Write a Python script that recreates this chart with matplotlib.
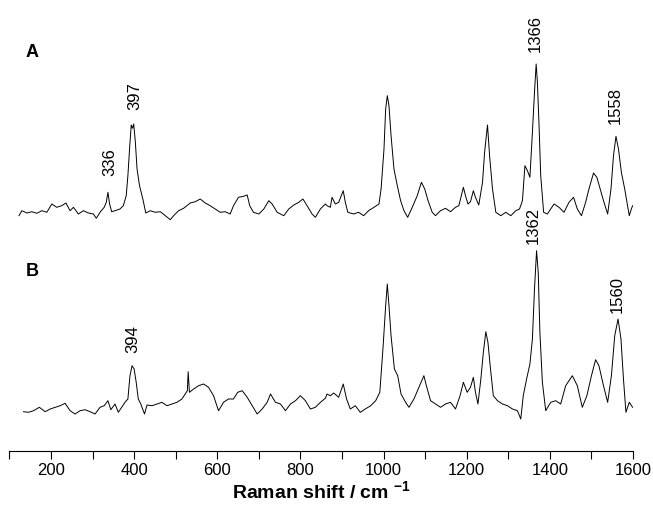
import matplotlib
matplotlib.use("Agg")
import matplotlib.pyplot as plt
import numpy as np

plt.rcParams['font.family'] = ['Liberation Sans', 'DejaVu Sans']
plt.rcParams['mathtext.fontset'] = 'custom'
plt.rcParams['mathtext.rm'] = 'Liberation Sans'
plt.rcParams['mathtext.bf'] = 'Liberation Sans:bold'

# Spectrum A (wavenumber / cm-1, intensity a.u.)
wn_a = [123, 130, 142, 154, 166, 178, 190, 202, 214, 226, 236, 246, 254, 266, 278, 290,
        302, 309, 318, 328, 333, 337, 341, 346, 354, 366, 374, 381, 385, 389, 393, 396,
        399, 403, 407, 413, 421, 428, 439, 451, 463, 475, 487, 495, 507, 519, 535, 547,
        559, 571, 583, 595, 607, 619, 631, 639, 651, 663, 672, 678, 687, 700, 712, 724,
        732, 744, 760, 772, 784, 796, 806, 816, 828, 836, 848, 860, 864, 872, 876, 884,
        892, 903, 908, 914, 928, 940, 952, 964, 977, 989, 994, 1001, 1005, 1009, 1013,
        1018, 1025, 1033, 1041, 1049, 1058, 1069, 1081, 1091, 1099, 1107, 1117, 1125,
        1137, 1149, 1161, 1173, 1181, 1192, 1197, 1203, 1209, 1216, 1221, 1229, 1238,
        1243, 1250, 1255, 1262, 1270, 1282, 1294, 1306, 1318, 1327, 1334, 1340, 1346,
        1352, 1358, 1363, 1367, 1370, 1374, 1378, 1385, 1394, 1402, 1410, 1422, 1434,
        1446, 1457, 1466, 1476, 1486, 1494, 1505, 1513, 1521, 1529, 1539, 1547, 1553,
        1559, 1565, 1572, 1580, 1591, 1596, 1599]
int_a = [-1.7, 3.3, 1, 2.3, 0.7, 3.3, 1.7, 10, 6.7, 8.3, 11, 3.3, 6.7, 0, 3.3, 1,
         0, -4.3, 1.7, 6.7, 11.7, 21.7, 10, 2.3, 3.3, 5, 8.3, 18.3, 38.3, 65, 89, 85.7,
         90, 71.7, 45, 28.3, 15, 1, 3.3, 1.7, 2.3, -1.7, -5.7, -1.7, 3.3, 5.7, 11, 12.3,
         15, 11, 8.3, 5, 1.7, 2.3, 0, 8.3, 16.7, 17.7, 19, 8.3, 1.7, 0, 5, 13.3,
         10, 1.7, -1.7, 5, 9, 11.7, 15, 8.3, 0, -3.3, 5, 10, 8.3, 6.7, 16.7, 10,
         11.7, 23.3, 11.7, 1.7, 0, 1.7, -1.7, 3.3, 6.7, 10, 25, 65, 105, 118.3, 108.3,
         78.3, 45, 28.3, 13.3, 3.3, -3.3, 6.7, 18.3, 31.7, 25, 13.3, 1.7, -1.7,
         3.3, 5.7, 2.3, 6.7, 8.3, 26.7, 18.3, 10, 12.3, 23.3, 16.7, 9, 31.7,
         61.7, 89, 58.3, 25, 1.7, -1.7, 1.7, -1.7, 3.3, 5, 13.3, 48.3, 43.3,
         36.7, 81.7, 121.7, 150, 131.7, 88.3, 38.3, 1.7, 0, 5, 10, 6.7, 1.7,
         11.7, 16.7, 5, -1.7, 11.7, 25, 41, 36.7, 25, 13.3, 0, 25, 58.3,
         77.7, 65, 41.7, 25, -1.7, 5, 8.3]

# Spectrum B
wn_b = [134, 146, 158, 172, 186, 198, 210, 222, 234, 246, 258, 270, 282, 294, 306, 318,
        328, 337, 344, 354, 362, 370, 378, 385, 390, 395, 400, 405, 410, 416, 425, 431,
        443, 455, 467, 479, 491, 503, 515, 523, 528, 530, 533, 543, 555, 567, 579, 591,
        603, 615, 627, 639, 649, 660, 672, 684, 696, 708, 720, 728, 740, 752, 764, 776,
        788, 800, 812, 824, 836, 848, 860, 864, 872, 880, 892, 903, 911, 920, 932, 944,
        956, 969, 981, 991, 999, 1005, 1009, 1013, 1018, 1026, 1034, 1042, 1053, 1061,
        1073, 1085, 1097, 1103, 1113, 1125, 1137, 1149, 1161, 1173, 1184, 1192, 1201,
        1209, 1216, 1221, 1227, 1234, 1240, 1246, 1251, 1258, 1264, 1274, 1286, 1298,
        1310, 1322, 1330, 1336, 1344, 1352, 1358, 1363, 1368, 1372, 1376, 1382, 1390,
        1402, 1414, 1426, 1438, 1454, 1466, 1478, 1489, 1500, 1510, 1518, 1529, 1539,
        1548, 1556, 1564, 1571, 1577, 1583, 1591, 1599]
int_b = [-2.7, -3.3, -1.7, 1.7, -2.7, 0, 1.7, 3.3, 5.7, -1.7, -5, -1.7, -0.7, -2.7, -5, 1.7,
         3.3, 8.3, -0.7, 5, -3.3, 1.7, 6.7, 10, 33.3, 43.3, 40, 26.7, 10, 5, -5, 4,
         3.3, 5, 6.7, 3.3, 5, 6.7, 10, 15, 18.3, 37.3, 16.7, 20, 23.3, 25, 21.7, 13.3,
         -1.7, 6.7, 10, 10, 16.7, 18.3, 11.7, 3.3, -5, 0, 6.7, 15, 6.7, 5, -1.7, 5,
         8.3, 13.3, 8.3, 0, 1.7, 6.7, 10.7, 15, 13.3, 16, 11.7, 25, 10, 0, 3.3, -3.3,
         0, 3.3, 8.3, 16.7, 63.3, 103.3, 125, 103.3, 73.3, 40, 33.3, 15, 6.7, 1.7,
         10, 21.7, 33.3, 23.3, 8.3, 5, 1.7, 5, 6.7, 0, 13.3, 26.7, 16.7,
         21.7, 31.7, 16.7, 5, 30, 56.7, 77.3, 66.7, 36.7, 13.3, 8.3, 5, 3.3,
         0, -1.7, -10, 13.3, 30, 45, 70, 120, 158.3, 136.7, 76.7, 26.7, -1.7,
         6.7, 8.3, 5, 23.3, 33.3, 23.3, 1.7, 13.3, 33.3, 49.3, 43.3, 23.3, 6.7,
         33.3, 73.3, 90, 70, 30, -3.3, 6.7, 1.7]

offset_a = 195
peak_labels = ["336", "397", "1366", "1558", "1362", "394", "1560"]
label_x = [342, 401, 1366, 1557, 1361, 398, 1562]
label_y = [248, 314, 376, 304, 185, 71, 116]

fig = plt.figure(figsize=(6.53, 5.06), dpi=100)
ax = fig.add_axes([0.0144, 0.1067, 0.955, 0.8538])
ax.plot(wn_a, np.array(int_a) + offset_a, color='black', lw=0.7)
ax.plot(wn_b, int_b, color='black', lw=0.7)

for t, x, y in zip(peak_labels, label_x, label_y):
    ax.text(x, y, t, rotation=90, ha='center', va='center', fontsize=12)

ax.text(0.037, 1.0 - 33 / 432, 'A', transform=ax.transAxes, fontsize=13,
        fontweight='bold', ha='center', va='center')
ax.text(0.037, 1.0 - 251.5 / 432, 'B', transform=ax.transAxes, fontsize=13,
        fontweight='bold', ha='center', va='center')

ax.set_xlim(100, 1600)
ax.set_ylim(-42, 390)
ax.set_xticks(np.arange(200, 1601, 200))
ax.set_xticks(np.arange(100, 1601, 100), minor=True)
ax.tick_params(axis='x', which='both', direction='out', length=6, width=0.8, labelsize=12, pad=2)
ax.set_yticks([])
for s in ['left', 'right', 'top']:
    ax.spines[s].set_visible(False)
ax.spines['bottom'].set_linewidth(0.8)
ax.set_xlabel(r'Raman shift / cm $^{\mathbf{-1}}$', fontsize=14, fontweight='bold', labelpad=2)

fig.savefig('out.png', dpi=100)
